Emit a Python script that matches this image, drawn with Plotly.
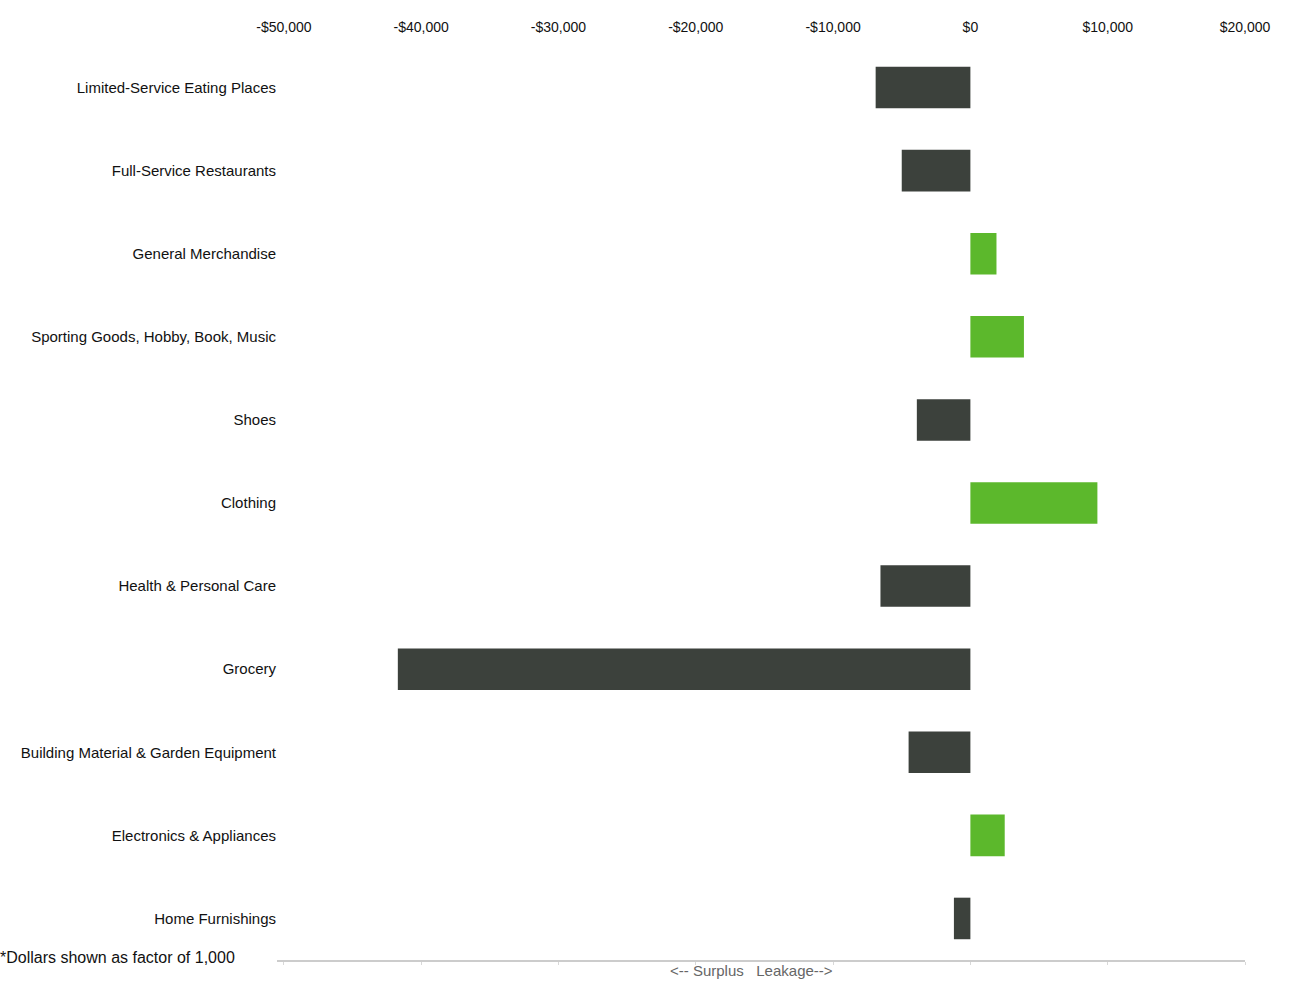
import plotly.graph_objects as go

categories = [
    "Limited-Service Eating Places",
    "Full-Service Restaurants",
    "General Merchandise",
    "Sporting Goods, Hobby, Book, Music",
    "Shoes",
    "Clothing",
    "Health & Personal Care",
    "Grocery",
    "Building Material & Garden Equipment",
    "Electronics & Appliances",
    "Home Furnishings",
]
values = [-6900, -5000, 1900, 3900, -3900, 9250, -6550, -41700, -4500, 2500, -1200]

tick_vals = [-50000, -40000, -30000, -20000, -10000, 0, 10000, 20000]
tick_text = ["-$50,000", "-$40,000", "-$30,000", "-$20,000", "-$10,000", "$0", "$10,000", "$20,000"]

DARK = "#3c413c"
GREEN = "#5cb82c"
colors = [GREEN if v > 0 else DARK for v in values]

fig = go.Figure()
fig.add_trace(go.Bar(
    x=values, y=categories, orientation="h",
    marker=dict(color=colors, line=dict(width=0)),
    width=0.5, showlegend=False,
))
# invisible trace to anchor the bottom axis
fig.add_trace(go.Scatter(x=[None], y=[None], xaxis="x2", showlegend=False, hoverinfo="skip"))

fig.update_layout(
    width=1297, height=982,
    margin=dict(l=277, r=52, t=46, b=22),
    paper_bgcolor="white", plot_bgcolor="white",
    font=dict(family="Liberation Sans, Arial, sans-serif", size=14, color="#111111"),
    xaxis=dict(
        side="top", range=[-50500, 20000], tickvals=tick_vals, ticktext=tick_text,
        showgrid=False, zeroline=False, showline=False, ticks="",
        tickfont=dict(size=14), automargin=False, ticklabelstandoff=10,
    ),
    xaxis2=dict(
        overlaying="x", side="bottom", range=[-50500, 20000],
        tickvals=tick_vals, showticklabels=False, showgrid=False, zeroline=False,
        showline=True, linecolor="#cccccc", linewidth=1.5,
        ticks="outside", ticklen=3, tickcolor="#d8d8d8", anchor="y",
    ),
    yaxis=dict(
        categoryorder="array", categoryarray=categories, autorange="reversed",
        showgrid=False, zeroline=False, showline=False, ticks="",
        tickfont=dict(size=15), automargin=False,
    ),
    annotations=[
        dict(text="&lt;-- Surplus   Leakage--&gt;", xref="paper", yref="paper",
             x=0.49, y=0.0, xanchor="center", yanchor="top", showarrow=False,
             font=dict(size=15, color="#666666")),
        dict(text="*Dollars shown as factor of 1,000", xref="paper", yref="paper",
             x=-0.288, y=0.003, xanchor="left", yanchor="middle", showarrow=False,
             font=dict(size=16, color="#111111")),
    ],
)

fig.write_html("out.html")
